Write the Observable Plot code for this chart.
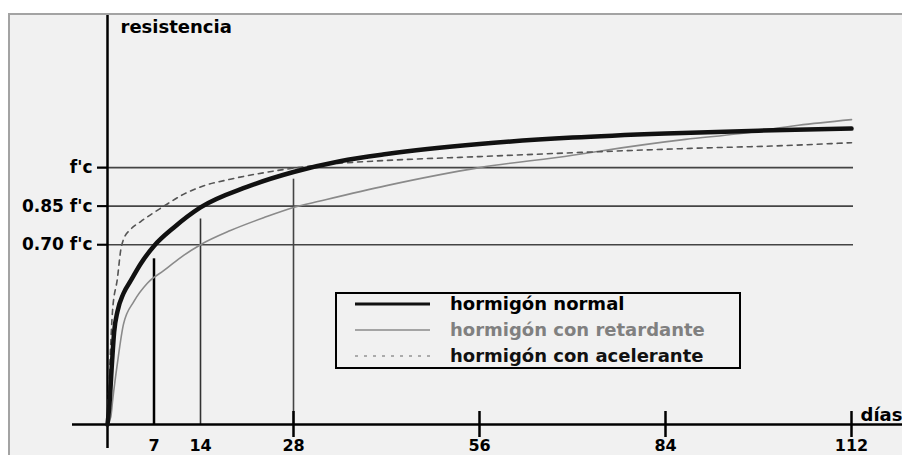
<!DOCTYPE html>
<html>
<head>
<meta charset="utf-8">
<script src="https://cdn.jsdelivr.net/npm/d3@7"></script>
<script src="https://cdn.jsdelivr.net/npm/@observablehq/plot@0.6"></script>
<style>
  html, body { margin: 0; padding: 0; background: #ffffff; }
  #wrap { position: relative; width: 902px; height: 455px; overflow: hidden; font-family: "DejaVu Sans", sans-serif; }
  #panel { position: absolute; left: 8px; top: 13px; right: -4px; bottom: -4px; background: #f1f1f1;
           border-top: 2px solid #a3a3a3; border-left: 2px solid #a3a3a3; }
  #chart { position: absolute; left: 0; top: 0; }
  #legend { position: absolute; left: 335px; top: 292px; width: 402px; height: 73px;
            border: 2px solid #000; background: #f1f1f1; }
  .row { position: absolute; left: 0; height: 20px; width: 400px; }
  .row svg { position: absolute; left: 18px; top: 0; }
  .row span { position: absolute; left: 113px; top: 0; line-height: 20px; font-size: 18px; font-weight: bold;
              font-family: "DejaVu Sans", sans-serif; white-space: nowrap; }
</style>
</head>
<body>
<div id="wrap">
  <div id="panel"></div>
  <div id="chart"></div>
  <div id="legend"></div>
</div>
<script>
// ---- data ----
const seriesNames = ["hormigón normal", "hormigón con retardante", "hormigón con acelerante"];

const normalDays   = [0, 0.3, 0.7, 1, 1.5, 2.4, 3.5, 5, 7, 10, 14, 21, 28, 35, 42, 56, 70, 84, 98, 112];
const normalValues = [0, 0.08, 0.25, 0.36, 0.44, 0.51, 0.56, 0.626, 0.695, 0.767, 0.845, 0.925, 0.983, 1.025, 1.053, 1.092, 1.117, 1.133, 1.144, 1.152];

const retardDays   = [0, 0.5, 0.8, 1.5, 2.4, 4, 6, 8.5, 11, 14, 18.5, 23.5, 28, 32, 42, 56, 70, 74, 87, 95, 104, 112];
const retardValues = [0, 0.03, 0.1, 0.24, 0.39, 0.48, 0.55, 0.60, 0.65, 0.70, 0.755, 0.805, 0.845, 0.87, 0.93, 1.0, 1.048, 1.064, 1.11, 1.132, 1.165, 1.187];

const acelDays   = [0, 0.3, 0.75, 1.5, 2, 2.4, 3.5, 5, 8.5, 11, 14, 18.5, 23.5, 28, 35, 42, 56, 74, 89, 100, 112];
const acelValues = [0, 0.2, 0.44, 0.57, 0.68, 0.72, 0.76, 0.79, 0.85, 0.89, 0.925, 0.955, 0.98, 0.998, 1.017, 1.028, 1.043, 1.062, 1.076, 1.084, 1.097];

const xTicks = [7, 14, 28, 56, 84, 112];
const xTickMarks = [28, 56, 84, 112];
const yLevels = [1, 0.85, 0.70];
const yLabels = ["f'c", "0.85 f'c", "0.70 f'c"];
const guideDays = [7, 14, 28];
const guideTops = [0.645, 0.80, 0.955];
const guideColors = ["#000000", "#333333", "#444444"];
const guideWidths = [2.5, 1.6, 1.6];
const yAxisLabel = "resistencia";
const xAxisLabel = "días";

// ---- build tables ----
const toRows = (days, vals) => days.map((d, i) => ({day: d, value: vals[i]}));
const normal = toRows(normalDays, normalValues);
const retard = toRows(retardDays, retardValues);
const acel = toRows(acelDays, acelValues);
const levels = yLevels.map((v, i) => ({value: v, label: yLabels[i]}));
const guides = guideDays.map((d, i) => ({day: d, top: guideTops[i], color: guideColors[i], w: guideWidths[i]}));

const font = {fontFamily: "DejaVu Sans, sans-serif", fontWeight: "bold"};

const chart = Plot.plot({
  width: 902,
  height: 455,
  marginLeft: 107,
  marginRight: 51,
  marginTop: 13,
  marginBottom: 31,
  x: {domain: [0, 112], axis: null},
  y: {domain: [0, 1.6], axis: null},
  style: {background: "transparent", overflow: "visible"},
  marks: [
    // reference levels
    Plot.ruleY(levels, {y: "value", x1: 0, x2: 112, insetLeft: -10, insetRight: -2, stroke: "#444", strokeWidth: 1.6}),
    Plot.ruleY(levels, {y: "value", x1: 0, x2: 0, insetLeft: -10, stroke: "#000", strokeWidth: 2}),
    // vertical guides at 7, 14, 28
    ...guides.map(g => Plot.ruleX([g], {x: "day", y1: "top", y2: 0, stroke: g.color, strokeWidth: g.w})),
    // axes lines
    Plot.ruleX([0], {insetTop: 2, insetBottom: -24, stroke: "#000", strokeWidth: 2.5}),
    Plot.ruleY([0], {insetLeft: -35, insetRight: -51, stroke: "#000", strokeWidth: 2.5}),
    Plot.ruleX(xTickMarks, {y1: 0, y2: 0, insetTop: -13, insetBottom: -13, stroke: "#000", strokeWidth: 2.5}),
    // tick labels
    Plot.text(xTicks, {x: d => d, y: 0, text: d => String(d), dy: 15, lineAnchor: "top", textAnchor: "middle", fontSize: 16, fill: "#000", ...font}),
    Plot.text(levels, {x: 0, y: "value", text: "label", dx: -15, textAnchor: "end", lineAnchor: "middle", fontSize: 17, fill: "#000", ...font}),
    Plot.text([yAxisLabel], {frameAnchor: "top-left", text: d => d, dx: 13, dy: 7, lineAnchor: "top", textAnchor: "start", fontSize: 18, fill: "#000", ...font}),
    Plot.text([xAxisLabel], {x: 112, y: 0, text: d => d, dx: 9, dy: -9, lineAnchor: "middle", textAnchor: "start", fontSize: 18, fill: "#000", ...font}),
    // curves
    Plot.line(retard, {x: "day", y: "value", stroke: "#8a8a8a", strokeWidth: 1.6, curve: "monotone-x"}),
    Plot.line(acel, {x: "day", y: "value", stroke: "#555", strokeWidth: 1.6, strokeDasharray: "5,5", curve: "monotone-x"}),
    Plot.line(normal, {x: "day", y: "value", stroke: "#111", strokeWidth: 4.5, curve: "monotone-x"})
  ]
});
document.getElementById("chart").appendChild(chart);

// ---- legend ----
const legendStyles = [
  {stroke: "#111", width: 3, dash: null, text: "#000"},
  {stroke: "#8a8a8a", width: 1.6, dash: null, text: "#808080"},
  {stroke: "#666", width: 1.2, dash: "3,6", text: "#111"}
];
const rowCenters = [10, 36, 62];
const legend = d3.select("#legend");
seriesNames.forEach((name, i) => {
  const s = legendStyles[i];
  const row = legend.append("div").attr("class", "row").style("top", (rowCenters[i] - 10) + "px");
  const svg = row.append("svg").attr("width", 76).attr("height", 20);
  const ln = svg.append("line").attr("x1", 0).attr("x2", 75).attr("y1", 10).attr("y2", 10)
    .attr("stroke", s.stroke).attr("stroke-width", s.width);
  if (s.dash) ln.attr("stroke-dasharray", s.dash);
  row.append("span").text(name).style("color", s.text);
});
</script>
</body>
</html>
